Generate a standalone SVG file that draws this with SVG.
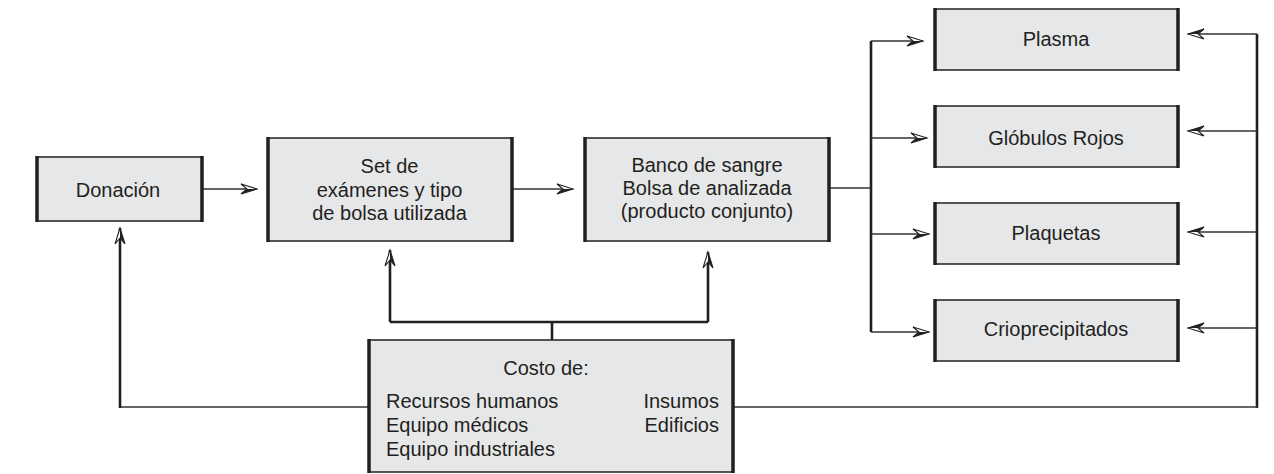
<svg xmlns="http://www.w3.org/2000/svg" width="1274" height="474" viewBox="0 0 1274 474">
<style>
.box{fill:#e6e7e8;stroke:#231f20;stroke-width:1.5}
.side{stroke:#231f20;stroke-width:3.5}
.t{font-family:"Liberation Sans",Arial,sans-serif;font-size:20px;fill:#231f20}
.c{text-anchor:middle}
.e{text-anchor:end}
.h{fill:none;stroke:#333;stroke-width:1.5}
.v{fill:none;stroke:#231f20;stroke-width:2.6}
</style>
<defs>
<marker id="ah" markerUnits="userSpaceOnUse" markerWidth="20" markerHeight="14" viewBox="-17 -7 18 14" refX="0" refY="0" orient="auto">
<path d="M0,0 L-16,-5 L-10,0 L-16,5 Z" fill="#fff" stroke="#231f20" stroke-width="1.1" stroke-linejoin="miter"/>
<path d="M0,0 L-10,0 L-16,5 Z" fill="#231f20"/>
</marker>
</defs>
<g id="connectors">
<path class="h" d="M202,189 H257" marker-end="url(#ah)"/>
<path class="h" d="M512,189 H573" marker-end="url(#ah)"/>
<path class="h" d="M829,188 H871"/>
<path class="v" d="M871,41 V332"/>
<path class="h" d="M871,41 H923" marker-end="url(#ah)"/>
<path class="h" d="M871,138 H927" marker-end="url(#ah)"/>
<path class="h" d="M871,234 H929" marker-end="url(#ah)"/>
<path class="h" d="M871,332 H929" marker-end="url(#ah)"/>
<path class="v" d="M1257,34 V408"/>
<path class="h" d="M1257,34 H1188" marker-end="url(#ah)"/>
<path class="h" d="M1257,131 H1188" marker-end="url(#ah)"/>
<path class="h" d="M1257,232 H1188" marker-end="url(#ah)"/>
<path class="h" d="M1257,328 H1188" marker-end="url(#ah)"/>
<path class="h" d="M733,407 H1258"/>
<path class="h" d="M368,407 H120"/>
<path class="v" d="M120,408 V228" marker-end="url(#ah)"/>
<path class="v" d="M552,340 V322"/>
<path class="v" d="M390,322 H708"/>
<path class="v" d="M390,322 V250" marker-end="url(#ah)"/>
<path class="v" d="M708,322 V252" marker-end="url(#ah)"/>
</g>
<g id="donacion">
<rect class="box" x="37" y="157" width="165" height="64"/>
<path class="side" d="M37,156 V222 M202,156 V222"/>
<text class="t c" x="118" y="197">Donación</text>
</g>
<g id="set">
<rect class="box" x="268" y="138" width="244" height="103"/>
<path class="side" d="M268,137 V242 M512,137 V242"/>
<text class="t c" x="389.5" y="173">Set de</text>
<text class="t c" x="389.5" y="197">exámenes y tipo</text>
<text class="t c" x="389.5" y="220">de bolsa utilizada</text>
</g>
<g id="banco">
<rect class="box" x="585" y="138" width="244" height="103"/>
<path class="side" d="M585,137 V242 M829,137 V242"/>
<text class="t c" x="707" y="172">Banco de sangre</text>
<text class="t c" x="707" y="195">Bolsa de analizada</text>
<text class="t c" x="707" y="218">(producto conjunto)</text>
</g>
<g id="plasma">
<rect class="box" x="935" y="9" width="243" height="61"/>
<path class="side" d="M935,8 V71 M1178,8 V71"/>
<text class="t c" x="1056" y="46">Plasma</text>
</g>
<g id="globulos">
<rect class="box" x="935" y="106" width="243" height="61"/>
<path class="side" d="M935,105 V168 M1178,105 V168"/>
<text class="t c" x="1056" y="145">Glóbulos Rojos</text>
</g>
<g id="plaquetas">
<rect class="box" x="935" y="203" width="243" height="61"/>
<path class="side" d="M935,202 V265 M1178,202 V265"/>
<text class="t c" x="1056" y="240">Plaquetas</text>
</g>
<g id="crio">
<rect class="box" x="935" y="300" width="243" height="61"/>
<path class="side" d="M935,299 V362 M1178,299 V362"/>
<text class="t c" x="1056" y="336">Crioprecipitados</text>
</g>
<g id="costo">
<rect class="box" x="369" y="340" width="364" height="132"/>
<path class="side" d="M369,339 V473 M733,339 V473"/>
<text class="t c" x="546" y="375">Costo de:</text>
<text class="t" x="386" y="408">Recursos humanos</text>
<text class="t" x="386" y="432">Equipo médicos</text>
<text class="t" x="386" y="456">Equipo industriales</text>
<text class="t e" x="719" y="408">Insumos</text>
<text class="t e" x="719" y="432">Edificios</text>
</g>
</svg>
